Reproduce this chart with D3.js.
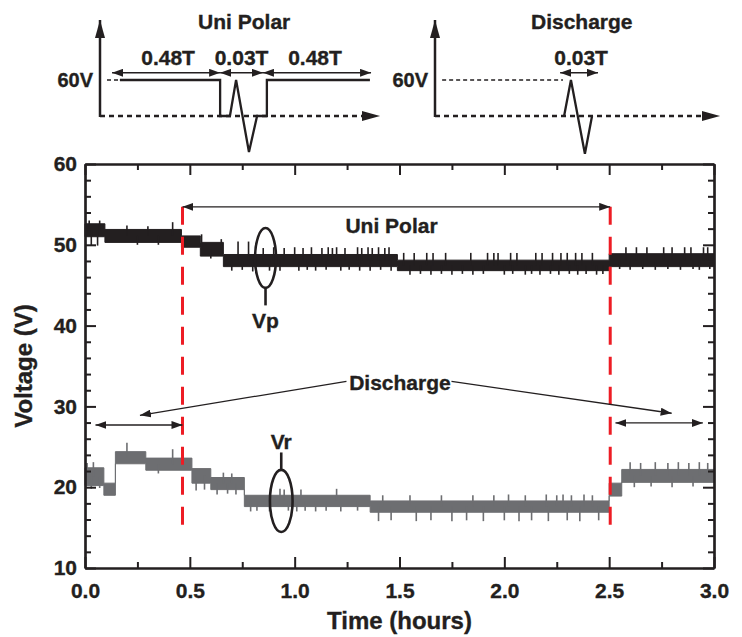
<!DOCTYPE html>
<html>
<head>
<meta charset="utf-8">
<script src="https://cdn.jsdelivr.net/npm/d3@7"></script>
<style>
  body { margin: 0; background: #fff; }
  text { font-family: "Liberation Sans", Arial, Helvetica, sans-serif; font-weight: bold; fill: #231f20; stroke: #231f20; stroke-width: 0.35px; }
</style>
</head>
<body>
<div id="chart"></div>
<script>
// ---- data ----
// Vp (black): step levels of the noisy band, plus the spikes sticking out of it
const vpTimes = [0, 0.095, 0.46, 0.55, 0.66, 1.49, 2.5, 3.0];
const vpLow  = [51.0, 50.3, 49.7, 48.6, 47.3, 46.8, 47.3];
const vpHigh = [52.6, 51.9, 51.1, 50.3, 48.8, 48.1, 48.9];
const vpSpikes = [
  [0.02, 53.0], [0.03, 49.9], [0.06, 49.9], [0.07, 53.0], [0.2, 52.4], [0.25, 50.0], [0.3, 52.3], [0.35, 50.0], [0.418, 52.8],
  [0.556, 51.3], [0.6, 48.3], [0.65, 50.7], [0.73, 50.4], [0.78, 50.4],
  [0.7, 46.8], [0.75, 46.9], [0.8, 46.7], [0.85, 49.6], [0.88, 46.8], [0.9, 49.7], [0.93, 46.8], [0.95, 49.6], [1.0, 49.7],
  [1.02, 46.8], [1.04, 49.6], [1.06, 46.9], [1.08, 49.7], [1.1, 46.8], [1.13, 49.6], [1.15, 46.9], [1.16, 49.7], [1.18, 49.6],
  [1.2, 49.7], [1.22, 46.8], [1.24, 49.6], [1.26, 46.9], [1.3, 49.7], [1.31, 46.8], [1.32, 49.6], [1.35, 49.7], [1.36, 46.8],
  [1.37, 49.6], [1.4, 49.7], [1.41, 46.9], [1.43, 49.6], [1.45, 49.7], [1.46, 46.8],
  [1.52, 49.0], [1.55, 46.3], [1.57, 49.0], [1.6, 46.4], [1.63, 49.0], [1.65, 46.3], [1.66, 49.0], [1.7, 46.4], [1.72, 49.0],
  [1.75, 46.3], [1.8, 46.4], [1.84, 49.0], [1.85, 46.3], [1.9, 46.4], [1.92, 49.0], [1.95, 49.0], [1.97, 49.0], [2.0, 46.3],
  [2.03, 49.0], [2.04, 46.4], [2.06, 49.0], [2.1, 46.3], [2.13, 46.4], [2.15, 49.0], [2.17, 46.3], [2.18, 49.0], [2.22, 46.4],
  [2.23, 49.0], [2.26, 46.3], [2.27, 49.0], [2.3, 49.0], [2.31, 46.4], [2.34, 49.0], [2.35, 46.3], [2.37, 49.0], [2.39, 46.4],
  [2.42, 49.0], [2.44, 46.3], [2.47, 46.4],
  [2.55, 47.0], [2.58, 49.7], [2.6, 46.9], [2.63, 49.7], [2.66, 47.0], [2.68, 49.7], [2.72, 46.9], [2.76, 49.7], [2.78, 47.0],
  [2.8, 49.7], [2.84, 46.9], [2.86, 49.7], [2.89, 49.7], [2.9, 47.0], [2.93, 46.9], [2.95, 49.7], [2.97, 49.7], [2.98, 47.0]
];

// Vr (grey)
const vrTimes = [0, 0.09, 0.145, 0.29, 0.51, 0.6, 0.76, 1.36, 2.5, 2.56, 3.0];
const vrLow  = [20.2, 19.0, 22.9, 22.1, 20.5, 19.7, 17.6, 16.9, 18.9, 20.6];
const vrHigh = [22.4, 20.5, 24.4, 23.6, 22.3, 21.2, 19.0, 18.3, 20.5, 22.2];
const vrSpikes = [
  [0.01, 23.0], [0.03, 19.8], [0.04, 23.1], [0.07, 19.9], [0.2, 25.5], [0.35, 21.7], [0.418, 24.7],
  [0.53, 19.6], [0.57, 19.7], [0.63, 19.1], [0.66, 21.8], [0.68, 19.2], [0.7, 21.7], [0.72, 19.1],
  [0.79, 17.0], [0.82, 17.1], [0.88, 17.0], [0.93, 19.8], [0.95, 19.7], [0.97, 17.1], [1.01, 17.0], [1.03, 19.7],
  [1.05, 17.1], [1.1, 17.0], [1.15, 17.1], [1.2, 19.8], [1.22, 17.0], [1.3, 17.1],
  [1.4, 15.8], [1.42, 19.0], [1.46, 15.9], [1.55, 19.0], [1.58, 15.8], [1.65, 15.9], [1.7, 19.0], [1.75, 15.8],
  [1.82, 15.9], [1.85, 19.0], [1.9, 15.8], [1.95, 19.0], [2.0, 15.9], [2.02, 19.1], [2.07, 15.8], [2.1, 19.0],
  [2.13, 15.9], [2.2, 19.1], [2.21, 15.8], [2.25, 19.0], [2.28, 19.1], [2.3, 15.9], [2.32, 19.0], [2.36, 15.8],
  [2.38, 19.1], [2.42, 19.0], [2.45, 15.9],
  [2.6, 23.1], [2.62, 20.0], [2.65, 23.0], [2.7, 20.1], [2.72, 23.1], [2.78, 23.0], [2.8, 20.0], [2.83, 23.1],
  [2.88, 23.0], [2.9, 20.1], [2.93, 23.1], [2.97, 23.0]
];

// mode change times (red dashed lines)
const modeTimes = [0.465, 2.505];

// axis ticks
const xMajor = [0, 0.5, 1.0, 1.5, 2.0, 2.5, 3.0];
const xMinor = [0.25, 0.75, 1.25, 1.75, 2.25, 2.75];
const yMajor = [10, 20, 30, 40, 50, 60];
const yMinor = [12, 14, 16, 18, 22, 24, 26, 28, 32, 34, 36, 38, 42, 44, 46, 48, 52, 54, 56, 58];

// inset waveforms (schematic units: x 0..100 across the inset, level 1 = 60V)
const uniWaveX = [7.1, 42.9, 42.9, 46.4, 48.6, 53.2, 56.1, 59.6, 59.6, 96.4];
const uniWaveY = [1, 1, 0, 0, 1, -1, 0, 0, 1, 1];
const uniSpans = [[4.3, 42.9], [42.9, 58.2], [58.2, 96.8]];
const uniSpanLabels = ["0.48T", "0.03T", "0.48T"];
const disWaveX = [45.3, 47.7, 52.6, 55.1];
const disWaveY = [0, 1, -1.05, 0];
const disSpans = [[43.9, 57.2]];
const disSpanLabels = ["0.03T"];

// ---- setup ----
const width = 742;
const height = 637;
const ink = "#231f20";
const svg = d3.select("#chart").append("svg")
  .attr("width", width)
  .attr("height", height);

const defs = svg.append("defs");
function marker(id, w, h) {
  defs.append("marker")
    .attr("id", id)
    .attr("viewBox", `0 0 ${w} ${h}`)
    .attr("refX", w).attr("refY", h / 2)
    .attr("markerWidth", w).attr("markerHeight", h)
    .attr("markerUnits", "userSpaceOnUse")
    .attr("orient", "auto-start-reverse")
    .append("path")
    .attr("d", `M0,0L${w},${h / 2}L0,${h}z`)
    .attr("fill", ink);
}
marker("ah", 11, 8);
marker("ahBig", 18, 10);

const x = d3.scaleLinear().domain([0, 3]).range([85, 714]);
const y = d3.scaleLinear().domain([10, 60]).range([568, 164]);

// ---- traces ----
function band(times, lo, hi) {
  const rows = lo.map((v, i) => ({ t: times[i], lo: v, hi: hi[i] }));
  rows.push({ t: times[times.length - 1], lo: lo[lo.length - 1], hi: hi[hi.length - 1] });
  return rows;
}
const area = d3.area()
  .curve(d3.curveStepAfter)
  .x(d => x(d.t))
  .y0(d => y(d.lo))
  .y1(d => y(d.hi));

function drawTrace(times, lo, hi, spikes, color) {
  svg.append("path")
    .datum(band(times, lo, hi))
    .attr("d", area)
    .attr("fill", color)
    .attr("stroke", color)
    .attr("stroke-width", 1);
  const mid = t => {
    const i = Math.max(0, Math.min(lo.length - 1, d3.bisectRight(times, t) - 1));
    return (lo[i] + hi[i]) / 2;
  };
  svg.append("g").selectAll("line")
    .data(spikes)
    .enter().append("line")
    .attr("x1", d => x(d[0])).attr("x2", d => x(d[0]))
    .attr("y1", d => y(mid(d[0]))).attr("y2", d => y(d[1]))
    .attr("stroke", color)
    .attr("stroke-width", 1.6);
}
drawTrace(vrTimes, vrLow, vrHigh, vrSpikes, "#6d6e71");
drawTrace(vpTimes, vpLow, vpHigh, vpSpikes, ink);

// ---- axes (ticks point inward on all four sides) ----
function axis(gen, scale, values, size, labels, transform) {
  const a = gen(scale).tickValues(values).tickSizeInner(-size).tickSizeOuter(0);
  if (labels) a.tickFormat(labels); else a.tickFormat("");
  const g = svg.append("g").attr("transform", transform).call(a);
  g.selectAll("line").attr("stroke", ink).attr("stroke-width", 2);
  g.select(".domain").attr("stroke", ink).attr("stroke-width", 2.2);
  g.selectAll("text").style("font-size", "21px").attr("fill", ink);
  return g;
}
axis(d3.axisBottom, x, xMinor, 6, null, "translate(0,568)");
axis(d3.axisBottom, x, xMajor, 11, d3.format(".1f"), "translate(0,568)")
  .selectAll("text").attr("y", 15);
axis(d3.axisTop, x, xMinor, 6, null, "translate(0,164)");
axis(d3.axisTop, x, xMajor, 11, null, "translate(0,164)");
axis(d3.axisLeft, y, yMinor, 6, null, "translate(85,0)");
axis(d3.axisLeft, y, yMajor, 11, d3.format("d"), "translate(85,0)")
  .selectAll("text").attr("x", -8);
axis(d3.axisRight, y, yMinor, 6, null, "translate(714,0)");
axis(d3.axisRight, y, yMajor, 11, null, "translate(714,0)");

svg.append("text")
  .attr("x", (x.range()[0] + x.range()[1]) / 2).attr("y", 629)
  .attr("text-anchor", "middle").style("font-size", "24px")
  .text("Time (hours)");
svg.append("text")
  .attr("transform", `translate(32,${(y.range()[0] + y.range()[1]) / 2}) rotate(-90)`)
  .attr("text-anchor", "middle").style("font-size", "24px")
  .text("Voltage (V)");

// ---- mode boundaries ----
svg.append("g").selectAll("line")
  .data(modeTimes)
  .enter().append("line")
  .attr("x1", d => x(d)).attr("x2", d => x(d))
  .attr("y1", y(54.7)).attr("y2", y(14.6))
  .attr("stroke", "#ed1c24")
  .attr("stroke-width", 3)
  .attr("stroke-dasharray", "18,12");

// ---- annotations ----
function arrow(x1, y1, x2, y2, both, w, id) {
  const l = svg.append("line")
    .attr("x1", x1).attr("y1", y1).attr("x2", x2).attr("y2", y2)
    .attr("stroke", ink).attr("stroke-width", w || 1.3)
    .attr("marker-end", `url(#${id || "ah"})`);
  if (both) l.attr("marker-start", `url(#${id || "ah"})`);
  return l;
}
function label(px, py, str, size, anchor) {
  svg.append("text").attr("x", px).attr("y", py)
    .attr("text-anchor", anchor || "middle")
    .style("font-size", (size || 21) + "px")
    .text(str);
}

arrow(x(modeTimes[0]), y(54.7), x(modeTimes[1]), y(54.7), true);
label(x(1.462), y(51.5), "Uni Polar");

label(x(1.502), y(32.0), "Discharge");
arrow(x(1.247), y(33.1), x(0.262), y(28.9));
arrow(x(1.748), y(33.1), x(2.798), y(29.15));
arrow(x(0.05), y(27.7), x(0.465), y(27.7), true);
arrow(x(2.53), y(27.95), x(2.947), y(27.95), true);

// Vp / Vr markers
function ring(t, v, rt, rv, tail, txt, name) {
  svg.append("ellipse")
    .attr("cx", x(t)).attr("cy", y(v))
    .attr("rx", x(rt) - x(0)).attr("ry", y(0) - y(rv))
    .attr("fill", "none").attr("stroke", ink).attr("stroke-width", 2.6);
  svg.append("line")
    .attr("x1", x(t)).attr("x2", x(t))
    .attr("y1", y(tail[0])).attr("y2", y(tail[1]))
    .attr("stroke", ink).attr("stroke-width", 2.6);
  label(x(t), y(txt), name);
}
ring(0.861, 48.37, 0.05, 3.7, [44.66, 42.5], 39.7, "Vp");
ring(0.936, 18.3, 0.054, 3.84, [22.13, 24.3], 24.75, "Vr");

// ---- inset waveforms ----
const insetY = d3.scaleLinear().domain([0, 1]).range([116, 80]);
function inset(x0, x1, waveX, waveY, spans, spanLabels, title, levelDotted) {
  const ix = d3.scaleLinear().domain([0, 100]).range([x0, x1]);
  // axes
  arrow(ix(0), insetY(0) + 1, ix(0), 20, false, 2.5, "ahBig");
  svg.append("line")
    .attr("x1", ix(0)).attr("x2", ix(100) - 16)
    .attr("y1", insetY(0)).attr("y2", insetY(0))
    .attr("stroke", ink).attr("stroke-width", 2.5)
    .attr("stroke-dasharray", "5,4");
  arrow(ix(100) - 17, insetY(0), ix(100), insetY(0), false, 0.1, "ahBig");
  label(ix(0) - 7, insetY(1) + 7, "60V", 20, "end");
  label(ix(51.5), 29, title);
  if (levelDotted) {
    svg.append("line")
      .attr("x1", ix(levelDotted[0])).attr("x2", ix(levelDotted[1]))
      .attr("y1", insetY(1)).attr("y2", insetY(1))
      .attr("stroke", ink).attr("stroke-width", levelDotted[2])
      .attr("stroke-dasharray", "4,3");
  }
  const pts = waveX.map((v, i) => [ix(v), insetY(waveY[i])]);
  svg.append("path")
    .attr("d", d3.line()(pts))
    .attr("fill", "none").attr("stroke", ink).attr("stroke-width", 2.3)
    .attr("stroke-linejoin", "miter");
  spans.forEach((s, i) => {
    const sy = insetY(1.2);
    arrow(ix(s[0]), sy, ix(s[1]), sy, true, 1.4);
    label((ix(s[0]) + ix(s[1])) / 2 + (i === 0 ? 2 : i === 2 ? -2 : 0), 65, spanLabels[i]);
  });
}
inset(100, 380, uniWaveX, uniWaveY, uniSpans, uniSpanLabels, "Uni Polar", [2.5, 7.1, 1.4]);
inset(435, 720, disWaveX, disWaveY, disSpans, disSpanLabels, "Discharge", [2.5, 44.9, 1.6]);
</script>
</body>
</html>
